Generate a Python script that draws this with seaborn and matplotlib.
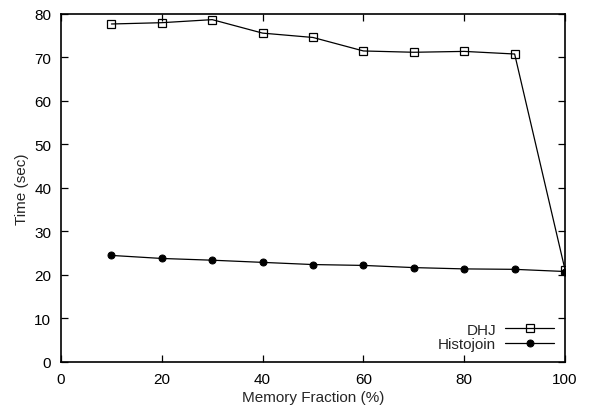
import pandas as pd
import seaborn as sns
import matplotlib.pyplot as plt

fraction = [10, 20, 30, 40, 50, 60, 70, 80, 90, 100]
dhj = [77.7, 78.0, 78.7, 75.6, 74.6, 71.5, 71.2, 71.4, 70.8, 21.2]
histojoin = [24.5, 23.8, 23.4, 22.9, 22.4, 22.2, 21.7, 21.4, 21.3, 20.8]

df = pd.DataFrame({'Fraction': fraction, 'DHJ': dhj, 'Histojoin': histojoin})

sns.set_style('ticks')
plt.rcParams['font.family'] = ['Liberation Sans', 'DejaVu Sans']
plt.rcParams['font.size'] = 11

fig = plt.figure(figsize=(5.89, 4.14), dpi=100)
ax = fig.add_axes([0.1036, 0.1232, 0.8557, 0.8406])

sns.lineplot(data=df, x='Fraction', y='DHJ', ax=ax, color='black', lw=0.9,
             marker='s', markersize=5.2, markerfacecolor='none',
             markeredgecolor='black', markeredgewidth=0.9, label='DHJ')
sns.lineplot(data=df, x='Fraction', y='Histojoin', ax=ax, color='black', lw=0.9,
             marker='o', markersize=5, markerfacecolor='black',
             markeredgecolor='black', label='Histojoin')

ax.set_xlim(0, 100)
ax.set_ylim(0, 80)
ax.set_xticks(range(0, 101, 20))
ax.set_yticks(range(0, 81, 10))
ax.tick_params(direction='in', top=True, right=True, length=5, width=0.9,
               labelsize=11, colors='black', pad=7)
for s in ax.spines.values():
    s.set_visible(True)
    s.set_linewidth(1.2)
    s.set_color('black')
ax.set_xlabel('Memory Fraction (%)', fontsize=11, labelpad=3)
ax.set_ylabel('Time (sec)', fontsize=11, labelpad=4)

ax.legend(loc='lower right', frameon=False, markerfirst=False, handlelength=3.2,
          fontsize=11, borderaxespad=0.3, labelspacing=0.05, handletextpad=0.6)

fig.savefig('out.png', dpi=100)
